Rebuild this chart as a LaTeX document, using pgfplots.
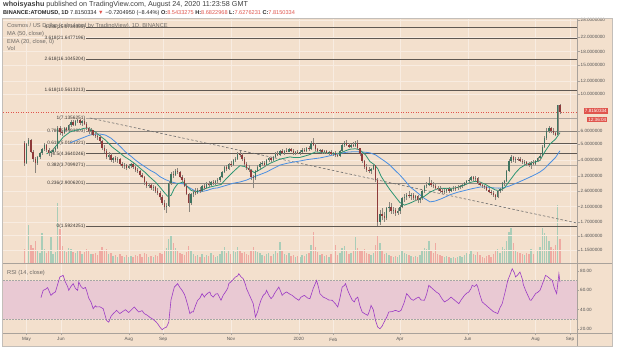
\documentclass[border=0pt]{standalone}
\usepackage{fontspec}
\setmainfont{Liberation Sans}
\usepackage{pgfplots}
\pgfplotsset{compat=1.18}
\usepackage{pgfplotstable}
\newcommand\fsz[1]{\fontsize{#1pt}{#1pt}\selectfont}
\definecolor{bg}{HTML}{F3E0CD}
\definecolor{gridc}{HTML}{F8ECE1}
\definecolor{bandc}{HTML}{E9C9D3}
\definecolor{sepc}{HTML}{A9A29B}
\definecolor{txtc}{HTML}{555555}
\definecolor{legc}{HTML}{6E6A66}
\definecolor{upc}{HTML}{3F7460}
\definecolor{dnc}{HTML}{8E3B3B}
\definecolor{wickc}{HTML}{8A857D}
\definecolor{volup}{HTML}{A9CDB8}
\definecolor{voldn}{HTML}{EFAAA2}
\definecolor{mac}{HTML}{4A8FE2}
\definecolor{emac}{HTML}{2A9472}
\definecolor{rsic}{HTML}{9C3BC4}
\definecolor{redc}{HTML}{E0554D}
\definecolor{fibd}{HTML}{5F5852}
\definecolor{fibm}{HTML}{8A837C}
\definecolor{fibl}{HTML}{ADA59D}
\definecolor{fibt}{HTML}{3A3633}

\pgfplotstableread[row sep=\\]{
d o h l c v\\
-2 5.10 5.20 3.70 3.85 14\\
0 3.85 5.10 3.80 5.00 18\\
2 5.00 5.45 4.85 5.25 38\\
4 5.25 5.35 4.40 4.50 18\\
6 4.50 4.60 3.90 4.05 15\\
8 4.05 4.20 3.35 3.85 22\\
10 3.85 4.25 3.75 4.15 12\\
12 4.15 4.50 4.05 4.40 10\\
14 4.40 4.75 4.30 4.65 30\\
16 4.65 5.05 4.55 4.90 14\\
18 4.90 5.00 4.50 4.60 10\\
20 4.60 4.70 4.25 4.40 13\\
22 4.40 4.60 4.20 4.50 26\\
24 4.50 4.75 4.35 4.60 9\\
26 4.60 4.80 4.45 4.70 11\\
28 4.70 6.40 4.65 6.25 60\\
30 6.25 6.45 5.70 5.90 34\\
32 5.90 6.10 5.60 5.85 17\\
34 5.85 6.30 5.75 6.20 13\\
36 6.20 6.35 5.95 6.10 11\\
38 6.10 6.60 6.00 6.50 15\\
40 6.50 6.95 6.35 6.80 14\\
42 6.80 7.00 6.40 6.55 11\\
44 6.55 6.95 6.45 6.85 10\\
46 6.85 7.05 6.70 7.00 13\\
48 7.00 7.10 6.55 6.70 12\\
50 6.70 6.95 6.40 6.85 9\\
52 6.85 7.1356 6.50 6.60 11\\
54 6.60 6.75 6.05 6.20 14\\
56 6.20 6.35 5.75 5.95 12\\
58 5.95 6.20 5.70 6.05 9\\
60 6.05 6.10 5.55 5.70 9\\
62 5.70 5.90 5.45 5.60 10\\
64 5.60 5.80 5.30 5.50 8\\
66 5.50 5.65 5.05 5.20 12\\
68 5.20 5.30 4.60 4.75 16\\
70 4.75 4.90 4.40 4.55 12\\
72 4.55 4.65 4.05 4.20 14\\
74 4.20 4.45 4.00 4.30 9\\
76 4.30 4.40 3.90 4.00 10\\
78 4.00 4.20 3.85 4.10 7\\
80 4.10 4.25 3.90 4.00 8\\
82 4.00 4.15 3.85 4.05 6\\
84 4.05 4.10 3.70 3.80 9\\
86 3.80 3.90 3.60 3.70 7\\
88 3.70 3.85 3.55 3.75 6\\
90 3.75 3.80 3.50 3.60 8\\
92 3.60 3.80 3.55 3.70 6\\
94 3.70 3.85 3.60 3.78 7\\
96 3.78 3.82 3.55 3.65 6\\
98 3.65 3.70 3.40 3.50 8\\
100 3.50 3.60 3.35 3.45 7\\
102 3.45 3.50 3.15 3.25 9\\
104 3.25 3.35 3.10 3.15 6\\
106 3.15 3.20 2.85 2.95 10\\
108 2.95 3.00 2.70 2.80 9\\
110 2.80 2.92 2.70 2.85 6\\
112 2.85 2.90 2.65 2.72 7\\
114 2.72 2.82 2.62 2.75 6\\
116 2.75 2.80 2.55 2.60 8\\
118 2.60 2.70 2.45 2.55 7\\
120 2.55 2.60 2.30 2.38 10\\
122 2.38 2.45 2.15 2.22 9\\
124 2.22 2.30 2.00 2.08 12\\
126 2.08 2.20 1.92 2.12 15\\
128 2.12 3.00 2.08 2.90 24\\
130 2.90 3.40 2.85 3.30 28\\
132 3.30 3.45 3.10 3.25 20\\
134 3.25 3.55 3.20 3.45 15\\
136 3.45 3.60 3.30 3.40 12\\
138 3.40 3.45 3.10 3.15 10\\
140 3.15 3.25 2.95 3.05 9\\
142 3.05 3.10 2.75 2.80 8\\
144 2.80 2.88 2.45 2.50 11\\
146 2.50 2.55 1.95 2.20 17\\
148 2.20 2.55 2.15 2.50 12\\
150 2.50 2.65 2.40 2.58 9\\
152 2.58 2.70 2.45 2.52 7\\
154 2.52 2.70 2.50 2.65 8\\
156 2.65 2.75 2.55 2.62 6\\
158 2.62 2.85 2.58 2.78 9\\
160 2.78 2.88 2.65 2.72 6\\
162 2.72 2.95 2.68 2.88 8\\
164 2.88 2.98 2.75 2.82 7\\
166 2.82 3.00 2.78 2.95 10\\
168 2.95 3.05 2.85 2.90 8\\
170 2.90 3.05 2.82 2.98 6\\
172 2.98 3.10 2.90 3.02 7\\
174 3.02 3.20 2.95 3.15 9\\
176 3.15 3.45 3.10 3.40 13\\
178 3.40 3.70 3.35 3.62 16\\
180 3.62 3.75 3.45 3.55 10\\
182 3.55 3.85 3.50 3.80 12\\
184 3.80 3.95 3.65 3.75 9\\
186 3.75 4.05 3.70 3.98 12\\
188 3.98 4.15 3.90 4.05 11\\
190 4.05 4.45 4.00 4.35 16\\
192 4.35 4.55 4.20 4.30 13\\
194 4.30 4.40 3.95 4.05 10\\
196 4.05 4.15 3.70 3.80 11\\
198 3.80 3.90 3.50 3.60 9\\
200 3.60 3.75 3.40 3.50 8\\
202 3.50 3.55 3.05 3.15 12\\
204 3.15 3.25 2.70 3.10 16\\
206 3.10 3.50 3.05 3.45 13\\
208 3.45 3.75 3.40 3.65 11\\
210 3.65 3.90 3.55 3.80 10\\
212 3.80 3.95 3.70 3.85 8\\
214 3.85 3.95 3.65 3.75 7\\
216 3.75 4.05 3.70 3.98 9\\
218 3.98 4.20 3.90 4.10 10\\
220 4.10 4.20 3.90 4.00 7\\
222 4.00 4.25 3.95 4.18 9\\
224 4.18 4.45 4.10 4.38 12\\
226 4.38 4.55 4.25 4.30 10\\
228 4.30 4.60 4.25 4.52 21\\
230 4.52 4.65 4.35 4.42 12\\
232 4.42 4.60 4.30 4.55 9\\
234 4.55 4.70 4.45 4.50 8\\
236 4.50 4.75 4.45 4.65 10\\
238 4.65 4.72 4.45 4.55 7\\
240 4.55 4.65 4.30 4.40 8\\
242 4.40 4.55 4.30 4.48 6\\
244 4.48 4.60 4.35 4.45 7\\
246 4.45 4.58 4.30 4.50 6\\
248 4.50 4.70 4.40 4.62 8\\
250 4.62 4.75 4.50 4.55 7\\
252 4.55 4.80 4.50 4.72 9\\
254 4.72 4.85 4.55 4.65 10\\
256 4.65 5.20 4.60 5.05 18\\
258 5.05 5.45 4.85 4.95 31\\
260 4.95 5.05 4.55 4.65 16\\
262 4.65 4.75 4.45 4.55 11\\
264 4.55 4.68 4.40 4.60 8\\
266 4.60 4.65 4.35 4.45 9\\
268 4.45 4.60 4.35 4.52 7\\
270 4.52 4.60 4.35 4.40 8\\
272 4.40 4.55 4.30 4.48 6\\
274 4.48 4.60 4.30 4.38 9\\
276 4.38 4.50 4.25 4.42 7\\
278 4.42 4.52 4.20 4.30 18\\
280 4.30 4.40 4.15 4.25 8\\
282 4.25 4.60 4.20 4.55 10\\
284 4.55 5.00 4.50 4.90 15\\
286 4.90 5.20 4.80 5.10 17\\
288 5.10 5.25 4.85 4.95 12\\
290 4.95 5.05 4.70 4.80 9\\
292 4.80 5.00 4.70 4.92 10\\
294 4.92 5.15 4.80 4.85 12\\
296 4.85 5.20 4.80 5.10 26\\
298 5.10 5.25 4.60 4.70 15\\
300 4.70 4.75 4.25 4.35 13\\
302 4.35 4.40 3.85 3.95 12\\
304 3.95 4.00 3.55 3.65 14\\
306 3.65 3.80 3.40 3.50 10\\
308 3.50 3.65 3.35 3.45 9\\
310 3.45 3.60 3.30 3.55 8\\
312 3.55 3.80 3.50 3.72 10\\
314 3.72 3.75 2.95 3.05 18\\
316 3.05 3.10 1.5924 1.70 28\\
318 1.70 2.00 1.62 1.90 20\\
320 1.90 2.05 1.75 1.85 12\\
322 1.85 1.95 1.70 1.80 9\\
324 1.80 2.10 1.75 2.05 10\\
326 2.05 2.25 1.95 2.10 8\\
328 2.10 2.20 1.90 1.98 7\\
330 1.98 2.10 1.90 2.00 6\\
332 2.00 2.05 1.85 1.92 7\\
334 1.92 2.05 1.88 1.98 6\\
336 1.98 2.15 1.90 2.10 8\\
338 2.10 2.40 2.05 2.35 12\\
340 2.35 2.50 2.25 2.40 10\\
342 2.40 2.55 2.30 2.48 9\\
344 2.48 2.60 2.35 2.42 8\\
346 2.42 2.55 2.30 2.45 7\\
348 2.45 2.52 2.30 2.36 6\\
350 2.36 2.48 2.28 2.42 7\\
352 2.42 2.45 2.22 2.30 6\\
354 2.30 2.40 2.20 2.35 8\\
356 2.35 2.65 2.30 2.60 12\\
358 2.60 2.85 2.55 2.78 15\\
360 2.78 2.95 2.70 2.85 14\\
362 2.85 3.15 2.80 2.92 22\\
364 2.92 3.05 2.75 2.85 13\\
366 2.85 2.95 2.70 2.78 10\\
368 2.78 2.90 2.65 2.72 20\\
370 2.72 2.80 2.60 2.68 9\\
372 2.68 2.78 2.55 2.62 8\\
374 2.62 2.70 2.50 2.58 7\\
376 2.58 2.68 2.50 2.62 6\\
378 2.62 2.72 2.55 2.66 7\\
380 2.66 2.75 2.55 2.62 6\\
382 2.62 2.72 2.58 2.68 5\\
384 2.68 2.78 2.62 2.72 6\\
386 2.72 2.80 2.62 2.70 5\\
388 2.70 2.82 2.65 2.75 6\\
390 2.75 2.85 2.68 2.80 7\\
392 2.80 2.90 2.72 2.85 6\\
394 2.85 2.95 2.78 2.90 8\\
396 2.90 3.05 2.85 3.00 10\\
398 3.00 3.10 2.90 3.05 9\\
400 3.05 3.20 2.98 3.15 12\\
402 3.15 3.22 3.00 3.08 9\\
404 3.08 3.20 3.00 3.12 8\\
406 3.12 3.15 2.85 2.90 11\\
408 2.90 2.95 2.78 2.85 8\\
410 2.85 2.90 2.72 2.78 6\\
412 2.78 2.85 2.68 2.75 5\\
414 2.75 2.80 2.60 2.65 7\\
416 2.65 2.72 2.52 2.58 8\\
418 2.58 2.65 2.48 2.55 6\\
420 2.55 2.60 2.40 2.45 9\\
422 2.45 2.50 2.30 2.38 12\\
424 2.38 2.65 2.35 2.60 14\\
426 2.60 2.72 2.55 2.68 10\\
428 2.68 2.95 2.62 2.90 16\\
430 2.90 3.05 2.80 2.98 14\\
432 2.98 3.50 2.95 3.45 22\\
434 3.45 4.05 3.40 3.95 31\\
436 3.95 4.30 3.85 4.15 35\\
438 4.15 4.25 3.90 4.00 20\\
440 4.00 4.15 3.85 4.08 13\\
442 4.08 4.20 3.95 4.05 11\\
444 4.05 4.18 3.90 3.95 10\\
446 3.95 4.05 3.80 3.88 9\\
448 3.88 3.98 3.75 3.92 8\\
450 3.92 3.95 3.70 3.78 10\\
452 3.78 3.88 3.65 3.72 9\\
454 3.72 3.95 3.55 3.85 14\\
456 3.85 3.98 3.75 3.80 9\\
458 3.80 4.00 3.75 3.95 10\\
460 3.95 4.15 3.90 4.10 12\\
462 4.10 4.35 4.00 4.25 16\\
464 4.25 4.90 4.20 4.80 35\\
466 4.80 5.60 4.75 5.45 30\\
468 5.45 6.20 5.30 6.00 28\\
470 6.00 6.45 5.85 6.25 22\\
472 6.25 6.35 5.80 5.95 16\\
474 5.95 6.20 5.70 5.85 14\\
476 5.85 6.00 5.55 5.70 18\\
478 5.70 8.60 5.65 8.54 58\\
480 8.54 8.68 7.63 7.82 24\\
}\candles

\pgfplotstableread[row sep=\\]{
d p\\
39 5.07\\ 48 5.36\\ 57 5.66\\ 62 5.73\\ 66 5.74\\ 71 5.66\\ 76 5.42\\ 80 5.14\\ 85 4.78\\ 89 4.48\\
94 4.22\\ 98 4.00\\ 102 3.82\\ 107 3.63\\ 111 3.48\\ 116 3.34\\ 120 3.18\\ 125 3.05\\ 130 2.96\\ 135 2.90\\
141 2.88\\ 146 2.74\\ 152 2.60\\ 156 2.57\\ 162 2.62\\ 168 2.70\\ 172 2.72\\ 180 2.82\\ 186 2.90\\ 192 2.95\\
198 3.03\\ 204 3.16\\ 210 3.27\\ 216 3.39\\ 222 3.56\\ 228 3.73\\ 234 3.82\\ 240 3.89\\ 246 3.95\\ 252 4.02\\
258 4.07\\ 264 4.12\\ 270 4.20\\ 276 4.30\\ 282 4.38\\ 288 4.46\\ 294 4.49\\ 300 4.48\\ 305 4.46\\ 309 4.42\\
314 4.30\\ 318 4.12\\ 322 3.95\\ 327 3.73\\ 331 3.50\\ 336 3.25\\ 341 2.98\\ 345 2.76\\ 350 2.60\\ 354 2.47\\
358 2.35\\ 363 2.24\\ 367 2.26\\ 372 2.32\\ 377 2.40\\ 381 2.47\\ 388 2.56\\ 396 2.64\\ 402 2.70\\ 408 2.75\\
414 2.75\\ 420 2.72\\ 425 2.71\\ 429 2.72\\ 435 2.80\\ 441 2.91\\ 447 3.03\\ 453 3.16\\ 458 3.28\\ 462 3.39\\
466 3.55\\ 471 3.84\\ 476 4.15\\ 480 4.55\\
}\maline

\pgfplotstableread[row sep=\\]{
d p\\
18 4.36\\ 23 4.55\\ 28 5.00\\ 33 5.50\\ 39 5.90\\ 44 6.05\\ 48 6.10\\ 52 6.22\\ 55 6.24\\ 58 6.12\\
62 5.90\\ 66 5.60\\ 71 5.28\\ 77 4.80\\ 84 4.42\\ 88 4.20\\ 93 4.00\\ 98 3.78\\ 102 3.58\\ 107 3.36\\
111 3.16\\ 116 2.95\\ 120 2.75\\ 124 2.55\\ 127 2.42\\ 130 2.45\\ 133 2.70\\ 136 2.88\\ 141 2.95\\ 145 2.75\\
148 2.63\\ 152 2.57\\ 156 2.62\\ 160 2.68\\ 165 2.75\\ 170 2.80\\ 175 2.85\\ 179 3.05\\ 183 3.25\\ 188 3.50\\
192 3.70\\ 196 3.66\\ 200 3.55\\ 205 3.36\\ 210 3.50\\ 215 3.68\\ 219 3.82\\ 224 3.95\\ 228 4.05\\ 233 4.12\\
237 4.18\\ 241 4.14\\ 246 4.15\\ 250 4.22\\ 255 4.32\\ 260 4.48\\ 264 4.45\\ 269 4.42\\ 273 4.40\\ 278 4.38\\
282 4.40\\ 287 4.55\\ 291 4.65\\ 296 4.68\\ 300 4.60\\ 305 4.30\\ 309 3.92\\ 313 3.75\\ 316 3.55\\ 319 3.20\\
323 2.90\\ 327 2.65\\ 332 2.40\\ 336 2.22\\ 340 2.14\\ 345 2.20\\ 350 2.28\\ 354 2.34\\ 358 2.42\\ 363 2.56\\
368 2.66\\ 372 2.70\\ 377 2.70\\ 381 2.70\\ 386 2.72\\ 390 2.76\\ 395 2.85\\ 399 2.93\\ 404 2.98\\ 408 2.95\\
413 2.85\\ 417 2.75\\ 422 2.64\\ 426 2.62\\ 430 2.72\\ 435 3.02\\ 440 3.35\\ 444 3.58\\ 449 3.75\\ 453 3.84\\
458 3.90\\ 462 3.98\\ 466 4.45\\ 471 5.00\\ 476 5.35\\ 480 5.85\\
}\emaline

\pgfplotstableread[row sep=\\]{
d r\\
13 52.4\\ 15 60\\ 17 61\\ 19 62.8\\ 22 54.8\\ 24 57\\ 26 58.3\\ 28 66\\ 30 73.8\\ 33 75.5\\
35 68.6\\ 37 64\\ 38 60\\ 40 64\\ 42 66.9\\ 44 62\\ 46 60\\ 47 68.6\\ 49 64\\ 51 61.7\\
53 63\\ 54 60\\ 56 52\\ 58 47.9\\ 60 41\\ 62 44\\ 63 42.8\\ 66 43\\ 69 41\\ 71 33\\
72 29\\ 74 27\\ 76 33\\ 78 35.9\\ 80 38\\ 81 39.3\\ 84 36\\ 86 37.6\\ 89 40\\ 92 37\\
94 39.3\\ 97 42.8\\ 99 40\\ 101 37.6\\ 104 39\\ 106 35.9\\ 109 34\\ 111 32\\ 113 30.7\\ 116 28\\
118 25.5\\ 120 22\\ 122 19.3\\ 124 21\\ 126 22\\ 128 27\\ 130 50\\ 133 63.4\\ 136 66.9\\ 138 63\\
140 60\\ 142 56\\ 143 53\\ 145 45\\ 147 35.9\\ 149 38\\ 150 37.6\\ 152 44\\ 154 49.7\\ 156 52\\
158 56.6\\ 160 53\\ 161 54.8\\ 163 57\\ 165 58.3\\ 166 55\\ 168 53\\ 170 56\\ 172 56.6\\ 174 52\\
175 49.7\\ 177 55\\ 179 58.3\\ 181 62\\ 182 66.9\\ 185 70\\ 188 73.8\\ 190 75\\ 191 77.2\\ 193 74\\
195 72\\ 197 66\\ 198 61.7\\ 201 54\\ 204 46.2\\ 206 32.4\\ 208 38\\ 209 42.8\\ 211 50\\ 213 54.8\\
215 57\\ 216 60\\ 218 55\\ 220 51.4\\ 222 54\\ 223 56.6\\ 225 60\\ 227 63.4\\ 229 58\\ 230 54.8\\
232 57\\ 234 58.3\\ 237 56\\ 239 54.8\\ 242 52\\ 245 49.7\\ 247 53\\ 250 54.8\\ 253 52\\ 255 51.4\\
258 62\\ 261 70.3\\ 263 62\\ 264 56.6\\ 267 53\\ 270 51.4\\ 272 50\\ 275 49.7\\ 278 46\\ 280 42.8\\
282 52\\ 284 63.4\\ 286 65\\ 287 66.9\\ 289 60\\ 291 54.8\\ 293 50\\ 295 48\\ 296 51\\ 298 53\\
300 44\\ 302 37.6\\ 304 36\\ 307 34.1\\ 309 40\\ 310 44.5\\ 312 40\\ 314 29\\ 316 22\\ 318 20.3\\
320 23\\ 321 25.5\\ 324 32\\ 326 37.6\\ 329 38\\ 332 39.3\\ 335 38\\ 337 39.3\\ 340 48\\ 342 56.6\\
344 54\\ 346 51\\ 348 49.7\\ 351 52\\ 353 53\\ 355 50\\ 358 49.7\\ 360 56\\ 362 65.2\\ 364 63\\
367 60\\ 369 58\\ 371 56.6\\ 374 51\\ 376 48\\ 379 50\\ 382 53\\ 385 50\\ 389 46.2\\ 391 50\\
394 54.8\\ 396 57\\ 398 58.3\\ 400 62\\ 401 65.2\\ 403 64\\ 405 66\\ 406 63.4\\ 408 55\\ 410 48\\
413 45\\ 415 43\\ 417 41\\ 420 38\\ 422 37\\ 424 35.9\\ 426 42\\ 428 46.2\\ 431 60\\ 433 70.3\\
435 76\\ 437 82.4\\ 439 78\\ 440 73.8\\ 442 76\\ 444 79\\ 446 72\\ 447 66\\ 449 60\\ 451 55\\
453 50\\ 454 49.7\\ 456 53\\ 458 56.6\\ 460 58\\ 462 60\\ 464 66\\ 467 75.5\\ 469 74\\ 471 72\\
473 70.3\\ 475 62\\ 477 56.6\\ 479 77.2\\ 480 68.6\\
}\rsiline

\begin{document}
\begin{tikzpicture}
\useasboundingbox (0,0) rectangle (617pt,351pt);
\fill[white] (0,0) rectangle (617pt,351pt);
\fill[bg] (2pt,5pt) rectangle (612pt,333pt);

% volume
\begin{axis}[at={(3pt,88pt)}, anchor=south west, scale only axis, width=574pt, height=245pt,
  xmin=-21.14, xmax=495.3, ymin=0, ymax=245, hide axis]
\addplot[ycomb, volup, line width=1.4pt, mark=none, restrict expr to domain={\thisrow{c}-\thisrow{o}}{0:100}] table[x=d, y=v] {\candles};
\addplot[ycomb, voldn, line width=1.4pt, mark=none, restrict expr to domain={\thisrow{o}-\thisrow{c}}{0.000001:100}] table[x=d, y=v] {\candles};
\end{axis}

% price
\begin{axis}[at={(3pt,88pt)}, anchor=south west, scale only axis, width=574pt, height=245pt,
  xmin=-21.14, xmax=495.3, ymode=log, ymin=0.9593, ymax=28.70,
  axis y line*=right, axis x line*=bottom,
  x axis line style={draw=none}, y axis line style={draw=sepc, line width=0.5pt},
  xtick={0,31,92,123,184,245,276,336,397,458,489}, xticklabels={}, xtick style={draw=none},
  ytick={1.15,1.4,1.7,2.1,2.6,3.2,4,5,6,10,12,15,18,22,28},
  yticklabels={1.1500000,1.4000000,1.7000000,2.1000000,2.6000000,3.2000000,4.0000000,5.0000000,6.0000000,10.0000000,12.0000000,15.0000000,18.0000000,22.0000000,28.0000000},
  ytick style={draw=sepc, line width=0.4pt}, tick align=outside, major tick length=2.5pt,
  yminorticks=false,
  yticklabel style={font=\fsz{4.6}, text=txtc, inner sep=1pt},
  xmajorgrids, ymajorgrids, grid style={draw=gridc, line width=0.5pt},
  /pgf/number format/assume math mode=true]
% fib lines
\addplot[fibd, line width=0.6pt] coordinates {(53.5,25.0734) (495.3,25.0734)};
\addplot[fibd, line width=0.6pt] coordinates {(53.5,21.6477196) (495.3,21.6477196)};
\addplot[fibd, line width=0.6pt] coordinates {(53.5,16.1045204) (495.3,16.1045204)};
\addplot[fibd, line width=0.6pt] coordinates {(53.5,10.5613213) (495.3,10.5613213)};
\addplot[fibl, line width=1.0pt] coordinates {(53.5,7.1356251) (495.3,7.1356251)};
\addplot[fibm, line width=0.9pt] coordinates {(53.5,5.9493803) (495.3,5.9493803)};
\addplot[fibd, line width=0.7pt] coordinates {(53.5,5.0181221) (495.3,5.0181221)};
\addplot[fibd, line width=0.7pt] coordinates {(53.5,4.3640246) (495.3,4.3640246)};
\addplot[fibl, line width=1.2pt] coordinates {(53.5,3.7099271) (495.3,3.7099271)};
\addplot[fibm, line width=0.8pt] coordinates {(53.5,2.9006201) (495.3,2.9006201)};
\addplot[fibd, line width=0.8pt] coordinates {(53.5,1.5924251) (495.3,1.5924251)};
\begin{scope}[every node/.style={anchor=east, font=\fsz{4.8}, text=fibt, inner sep=0.6pt}]
\node at (axis cs:53.5,25.0734) {4.236(25.0734355)};
\node at (axis cs:53.5,21.6477196) {3.618(21.6477196)};
\node at (axis cs:53.5,16.1045204) {2.618(16.1045204)};
\node at (axis cs:53.5,10.5613213) {1.618(10.5613213)};
\node at (axis cs:53.5,7.1356251) {1(7.1356251)};
\node at (axis cs:53.5,5.9493803) {0.786(5.9493803)};
\node at (axis cs:53.5,5.0181221) {0.618(5.0181221)};
\node at (axis cs:53.5,4.3640246) {0.5(4.3640246)};
\node at (axis cs:53.5,3.7099271) {0.382(3.7099271)};
\node at (axis cs:53.5,2.9006201) {0.236(2.9006201)};
\node at (axis cs:53.5,1.5924251) {0(1.5924251)};
\end{scope}
% trend line and current price
\addplot[gray!85!black, line width=0.6pt, dash pattern=on 2.5pt off 2pt] coordinates {(57,7.17) (495.3,1.67)};
\addplot[redc, line width=0.5pt, dotted] coordinates {(-21.14,7.815) (495.3,7.815)};
% averages
\addplot[mac, line width=0.8pt, mark=none] table[x=d, y=p] {\maline};
\addplot[emac, line width=0.8pt, mark=none] table[x=d, y=p] {\emaline};
% wicks
\addplot[draw=none, mark=none, error bars/.cd, y dir=plus, y explicit, error mark=none,
  error bar style={draw=wickc, line width=0.45pt}] table[x=d, y=l, y error plus expr=\thisrow{h}-\thisrow{l}] {\candles};
% bodies
\addplot[draw=none, mark=none, restrict expr to domain={\thisrow{c}-\thisrow{o}}{0:100},
  error bars/.cd, y dir=plus, y explicit, error mark=none,
  error bar style={draw=upc, line width=1.4pt}] table[x=d, y=o, y error plus expr=\thisrow{c}-\thisrow{o}] {\candles};
\addplot[draw=none, mark=none, restrict expr to domain={\thisrow{o}-\thisrow{c}}{0.000001:100},
  error bars/.cd, y dir=plus, y explicit, error mark=none,
  error bar style={draw=dnc, line width=1.4pt}] table[x=d, y=c, y error plus expr=\thisrow{o}-\thisrow{c}] {\candles};
\end{axis}

% RSI
\begin{axis}[at={(3pt,18pt)}, anchor=south west, scale only axis, width=574pt, height=70pt,
  xmin=-21.14, xmax=495.3, ymin=15.86, ymax=88.28,
  axis y line*=right, axis x line*=bottom,
  x axis line style={draw=sepc, line width=0.5pt}, y axis line style={draw=sepc, line width=0.5pt},
  xtick={0,31,92,123,184,245,276,336,397,458,489},
  xticklabels={May,Jun,Aug,Sep,Nov,2020,Feb,Apr,Jun,Aug,Sep},
  ytick={20,40,60,80}, yticklabels={20.00,40.00,60.00,80.00},
  tick align=outside, major tick length=2pt, tick style={draw=sepc, line width=0.4pt},
  xticklabel style={font=\fsz{4.6}, text=txtc, inner sep=0.5pt, yshift=-2pt},
  yticklabel style={font=\fsz{4.6}, text=txtc, inner sep=1pt},
  xmajorgrids, grid style={draw=gridc, line width=0.5pt}]
\fill[bandc] (axis cs:-21.14,30) rectangle (axis cs:495.3,70);
\addplot[gray!70, line width=0.4pt, dash pattern=on 1.5pt off 1.5pt] coordinates {(-21.14,70) (495.3,70)};
\addplot[gray!70, line width=0.4pt, dash pattern=on 1.5pt off 1.5pt] coordinates {(-21.14,30) (495.3,30)};
\addplot[rsic, line width=0.6pt, mark=none] table[x=d, y=r] {\rsiline};
\end{axis}

% separators and frame
\draw[sepc, line width=0.6pt] (2pt,88pt) -- (612pt,88pt);
\draw[sepc, line width=0.6pt] (2pt,18pt) -- (612pt,18pt);
\draw[sepc, line width=0.5pt] (577pt,5pt) -- (577pt,333pt);
\draw[sepc!70, line width=0.5pt] (2pt,5pt) rectangle (612pt,333pt);

% price labels
\node[fill=redc, text=white, font=\fsz{4.6}, inner sep=1.1pt, anchor=east] at (608pt,240pt) {7.8150334};
\node[fill=redc, text=white, font=\fsz{4.6}, inner sep=1.1pt, anchor=east] at (607.5pt,231.5pt) {12:36:04};

% header
\node[anchor=base west, inner sep=0pt, font=\fsz{7.2}, text=black!75] at (3pt,344pt)
  {\textbf{whoisyashu} published on TradingView.com, August 24, 2020 11:23:58 GMT};
\node[anchor=base west, inner sep=0pt, font=\fsz{5.6}, text=black!85] at (3pt,336.5pt)
  {\textbf{BINANCE:ATOMUSD, 1D} 7.8150334 \textcolor{redc}{▼} −0.7204950 (−8.44\%) \textbf{O:}\textcolor{redc}{8.5433275} \textbf{H:}\textcolor{redc}{8.6822968} \textbf{L:}\textcolor{redc}{7.6276231} \textbf{C:}\textcolor{redc}{7.8150334}};

% pane legends
\begin{scope}[every node/.style={anchor=base west, inner sep=0pt, font=\fsz{5.7}, text=legc}]
\node at (7pt,323.5pt) {Cosmos / US Dollar (calculated by TradingView), 1D, BINANCE};
\node at (7pt,315.5pt) {MA (50, close)};
\node at (7pt,307.5pt) {EMA (20, close, 0)};
\node at (7pt,300pt) {Vol};
\node at (7pt,77pt) {RSI (14, close)};
\end{scope}
\end{tikzpicture}
\end{document}
